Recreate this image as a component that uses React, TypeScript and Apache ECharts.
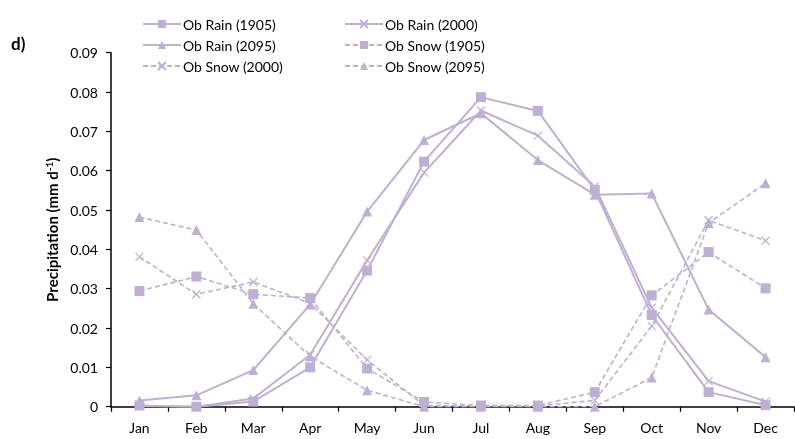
import React, { useEffect, useRef } from "react";
import * as echarts from "echarts";

const months = ["Jan", "Feb", "Mar", "Apr", "May", "Jun", "Jul", "Aug", "Sep", "Oct", "Nov", "Dec"];
const yTicks = [0, 0.01, 0.02, 0.03, 0.04, 0.05, 0.06, 0.07, 0.08, 0.09];

const rain1905 = [0.0003, 0.0, 0.0013, 0.01, 0.0346, 0.0623, 0.0787, 0.0752, 0.0551, 0.0233, 0.0037, 0.0004];
const rain2000 = [0.0002, 0.0, 0.0021, 0.0132, 0.0372, 0.0595, 0.0753, 0.0689, 0.056, 0.0252, 0.0065, 0.0013];
const rain2095 = [0.0016, 0.0029, 0.0093, 0.026, 0.0496, 0.0678, 0.0746, 0.0627, 0.0539, 0.0542, 0.0247, 0.0126];
const snow1905 = [0.0294, 0.0331, 0.0286, 0.0276, 0.0097, 0.0012, 0.0003, 0.0003, 0.0037, 0.0283, 0.0393, 0.0301];
const snow2000 = [0.0381, 0.0286, 0.0317, 0.0263, 0.0119, 0.0003, 0.0002, 0.0002, 0.0016, 0.0205, 0.0474, 0.0422];
const snow2095 = [0.0482, 0.0449, 0.0262, 0.0128, 0.0042, 0.0, 0.0, 0.0, 0.0, 0.0074, 0.0467, 0.0568];

const COLOR = "#bdb0d4";
const FONT = "Lato";
const XSYM = "path://M0,0L10,10M10,0L0,10";

export default function App() {
  const ref = useRef<HTMLDivElement>(null);
  useEffect(() => {
    if (!ref.current) return;
    const chart = echarts.init(ref.current, null, { renderer: "svg" });
    const mk = (name: string, data: number[], symbol: string, dashed: boolean, size: number) => ({
      name,
      type: "line",
      data,
      symbol,
      symbolSize: size,
      showSymbol: true,
      lineStyle: { color: COLOR, width: dashed ? 1.6 : 2, type: dashed ? [5, 3] : "solid" },
      itemStyle: { color: COLOR, borderColor: COLOR, borderWidth: symbol === XSYM ? 1.2 : 0 },
      emphasis: { disabled: true },
    });
    const series = [
      mk("Ob Rain (1905)", rain1905, "rect", false, 10),
      mk("Ob Rain (2000)", rain2000, XSYM, false, 8),
      mk("Ob Rain (2095)", rain2095, "triangle", false, 10),
      mk("Ob Snow (1905)", snow1905, "rect", true, 10),
      mk("Ob Snow (2000)", snow2000, XSYM, true, 8),
      mk("Ob Snow (2095)", snow2095, "triangle", true, 10),
    ];
    const legendCommon = {
      orient: "vertical",
      top: 12,
      itemWidth: 38,
      itemHeight: 10,
      itemGap: 7,
      textStyle: { fontFamily: FONT, fontSize: 14, color: "#000", padding: [0, 0, 0, -3] },
    };
    chart.setOption({
      animation: false,
      textStyle: { fontFamily: FONT },
      legend: [
        { ...legendCommon, left: 137, data: ["Ob Rain (1905)", "Ob Rain (2095)", "Ob Snow (2000)"] },
        { ...legendCommon, left: 339, data: ["Ob Rain (2000)", "Ob Snow (1905)", "Ob Snow (2095)"] },
      ],
      graphic: [
        {
          type: "text",
          left: 11,
          top: 35,
          style: { text: "d)", fontFamily: FONT, fontWeight: "bold", fontSize: 17, fill: "#000" },
        },
      ],
      grid: { left: 111, right: 1, top: 52.7, bottom: 32.3 },
      xAxis: {
        type: "category",
        data: months,
        boundaryGap: true,
        axisLine: { lineStyle: { color: "#000", width: 1.5 } },
        axisTick: { show: true, length: 5, lineStyle: { color: "#000", width: 1.2 } },
        axisLabel: { color: "#000", fontFamily: FONT, fontSize: 14, margin: 14 },
      },
      yAxis: {
        type: "value",
        min: yTicks[0],
        max: yTicks[yTicks.length - 1],
        interval: 0.01,
        name: "Precipitation (mm d{sup|-1})",
        nameLocation: "middle",
        nameGap: 50,
        nameTextStyle: {
          fontFamily: FONT,
          fontWeight: "bold",
          fontSize: 15,
          color: "#000",
          rich: { sup: { fontSize: 10, fontWeight: "bold", verticalAlign: "top", fontFamily: FONT, color: "#000", padding: [0, 0, 6, 0] } },
        },
        splitLine: { show: false },
        axisLine: { show: true, lineStyle: { color: "#000", width: 1.5 } },
        axisTick: { show: true, length: 5, lineStyle: { color: "#000", width: 1.2 } },
        axisLabel: {
          color: "#000",
          fontFamily: FONT,
          fontSize: 14,
          margin: 13,
          formatter: (v: number) => (v === 0 ? "0" : v.toFixed(2)),
        },
      },
      series,
    });
    return () => chart.dispose();
  }, []);
  return <div ref={ref} style={{ position: "fixed", left: 0, top: 0, width: 795, height: 439 }} />;
}
